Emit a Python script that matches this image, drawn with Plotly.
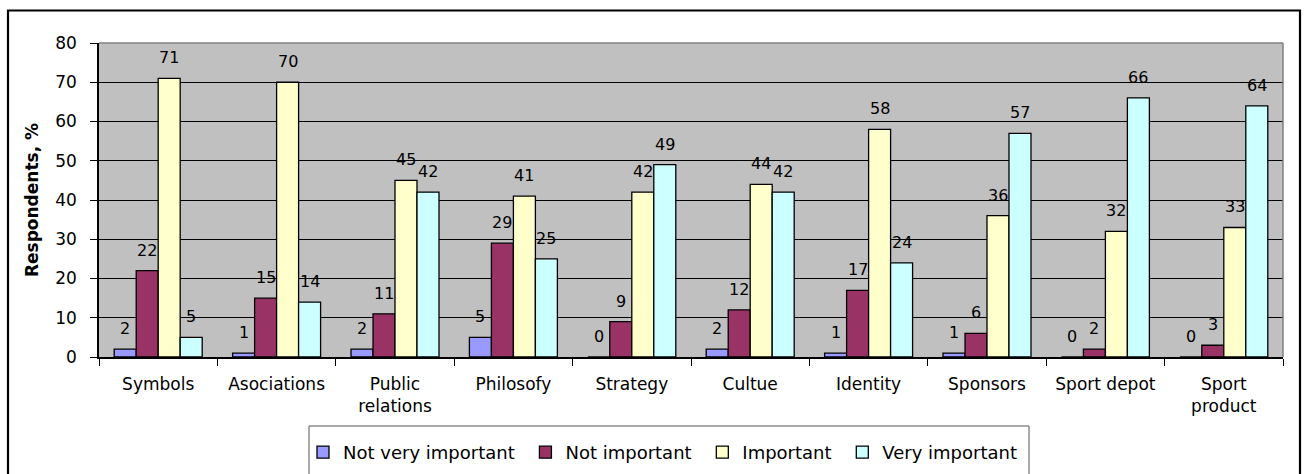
import plotly.graph_objects as go

categories = ["Symbols", "Asociations", "Public<br>relations", "Philosofy", "Strategy",
              "Cultue", "Identity", "Sponsors", "Sport depot", "Sport<br>product"]
not_very_important = [2, 1, 2, 5, 0, 2, 1, 1, 0, 0]
not_important = [22, 15, 11, 29, 9, 12, 17, 6, 2, 3]
important = [71, 70, 45, 41, 42, 44, 58, 36, 32, 33]
very_important = [5, 14, 42, 25, 49, 42, 24, 57, 66, 64]

series_names = ["Not very important", "Not important", "Important", "Very important"]
series_values = [not_very_important, not_important, important, very_important]
colors = ["#9999FF", "#993366", "#FFFFCC", "#CCFFFF"]

y_ticks = [0, 10, 20, 30, 40, 50, 60, 70, 80]

FONT = "DejaVu Sans"
BARGAP = 0.257

fig = go.Figure()
for name, vals, col in zip(series_names, series_values, colors):
    fig.add_trace(go.Bar(
        x=categories, y=vals, name=name + " ",
        marker=dict(color=col, line=dict(color="black", width=1.3)),
    ))

# data labels above each bar
n = len(series_values)
bw = (1 - BARGAP) / n
for j, vals in enumerate(series_values):
    for i, v in enumerate(vals):
        fig.add_annotation(
            x=i + (j - (n - 1) / 2) * bw, y=v, text=str(v),
            xref="x", yref="y", showarrow=False,
            yanchor="bottom", yshift=9,
            font=dict(family=FONT, size=16, color="black"),
        )

L, R, T, B = 99, 22, 43, 117
W, H = 1305, 474
pw, ph = W - L - R, H - T - B

def px_x(p):
    return (p - L) / pw

def px_y(p):
    return (H - B - p) / ph

shapes = [
    # plot area top and right border (gray)
    dict(type="line", xref="paper", yref="paper", x0=0, x1=1, y0=1, y1=1,
         line=dict(color="#808080", width=1.5), layer="above"),
    dict(type="line", xref="paper", yref="paper", x0=1, x1=1, y0=0, y1=1,
         line=dict(color="#808080", width=1.5), layer="above"),
    # outer chart frame
    dict(type="rect", xref="paper", yref="paper",
         x0=px_x(8), x1=px_x(1300), y0=px_y(10.5), y1=px_y(480),
         line=dict(color="black", width=2.2)),
    # legend frame
    dict(type="rect", xref="paper", yref="paper",
         x0=px_x(309), x1=px_x(1029), y0=px_y(426), y1=px_y(480),
         line=dict(color="#555555", width=1)),
]

fig.update_layout(
    width=W, height=H,
    margin=dict(l=L, r=R, t=T, b=B, autoexpand=False),
    paper_bgcolor="white",
    plot_bgcolor="#C0C0C0",
    barmode="group",
    bargap=BARGAP,
    bargroupgap=0,
    font=dict(family=FONT, size=17, color="black"),
    showlegend=True,
    legend=dict(
        orientation="h", x=px_x(303), xanchor="left",
        y=px_y(434), yanchor="top",
        font=dict(family=FONT, size=18, color="black"),
        bgcolor="rgba(0,0,0,0)", borderwidth=0,
        traceorder="normal",
    ),
    shapes=shapes,
    xaxis=dict(
        type="category",
        showline=True, linecolor="black", linewidth=1.5,
        ticks="outside", tickson="boundaries", ticklen=7, tickcolor="black",
        ticklabelstandoff=11,
        showgrid=False, automargin=False,
        tickfont=dict(family=FONT, size=17),
    ),
    yaxis=dict(
        range=[0, 80], tickvals=y_ticks,
        showline=True, linecolor="black", linewidth=1.5,
        ticks="outside", ticklen=7, tickcolor="black",
        ticklabelstandoff=10,
        showgrid=True, gridcolor="black", gridwidth=1,
        zeroline=False, automargin=False,
        tickfont=dict(family=FONT, size=17),
        title=dict(text="<b>Respondents, %</b>", standoff=12,
                   font=dict(family=FONT, size=17)),
    ),
)

fig.write_html("out.html", config={"displayModeBar": False},
               post_script="document.body.style.margin='0px';")
